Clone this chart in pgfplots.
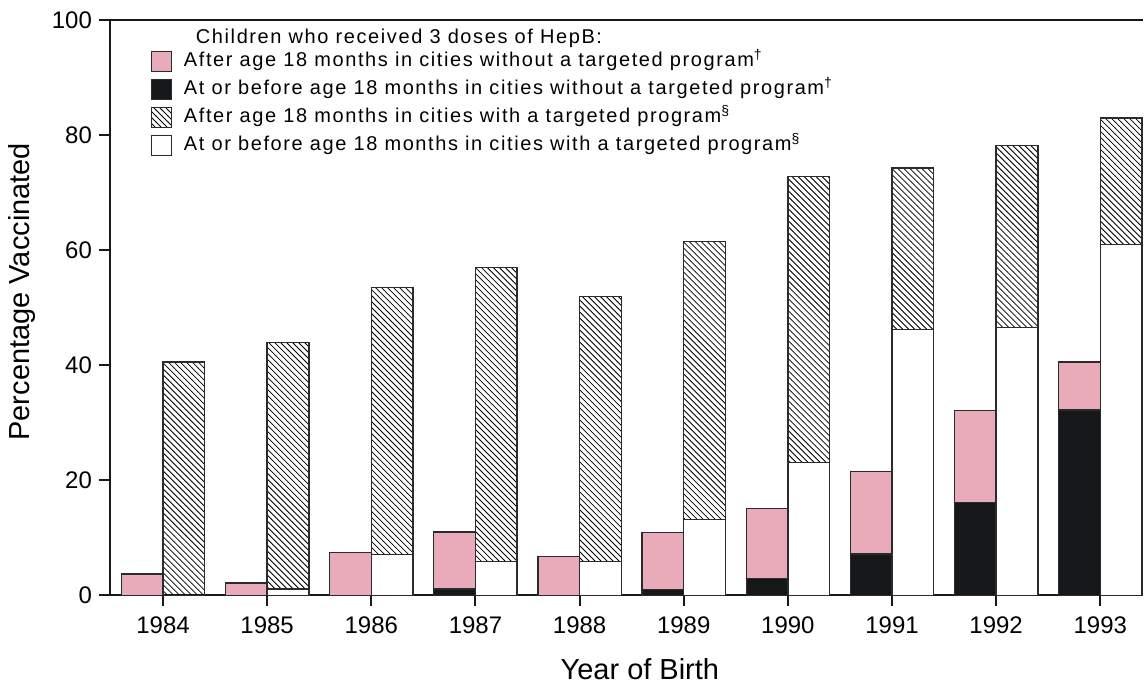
\documentclass[border=0pt]{standalone}
\usepackage{fontspec}
\setmainfont{Liberation Sans}
\newfontfamily\legfont[LetterSpace=8]{Liberation Sans}
\usepackage{pgfplots}
\usepackage{pgfplotstable}
\pgfplotsset{compat=1.18}
\usetikzlibrary{patterns}
\definecolor{hpink}{HTML}{E9AABA}
\definecolor{hblack}{HTML}{161718}
\definecolor{edge}{HTML}{2A2B2D}

\pgfplotstableread{
x black after white hatched
0 0.0 3.7 0.0 40.6
1 0.0 2.2 1.1 42.9
2 0.0 7.5 7.1 46.4
3 1.1 9.9 5.9 51.1
4 0.0 6.8 5.9 46.1
5 1.0 9.9 13.2 48.3
6 3.0 12.1 23.1 49.7
7 7.2 14.3 46.2 28.1
8 16.2 15.9 46.6 31.6
9 32.2 8.4 61.0 22.0
}\data

\pgfplotsset{common/.style={
  width=517pt, height=288pt, scale only axis,
  xmin=-0.51, xmax=9.41, ymin=0, ymax=100,
  ybar stacked, bar width=0.4,
}}

\begin{document}
\begin{tikzpicture}
\begin{axis}[common,
  axis x line=box, axis y line=left,
  axis line style={-, line width=1pt, black!90},
  xtick={0,1,2,3,4,5,6,7,8,9},
  xticklabels={1984,1985,1986,1987,1988,1989,1990,1991,1992,1993},
  xtick pos=bottom,
  ytick={0,20,40,60,80,100},
  tick align=outside, major tick length=5.5pt,
  tick style={line width=1pt, black!90},
  /pgf/number format/assume math mode=true,
  ticklabel style={font=\fontsize{12}{14}\selectfont},
  xticklabel style={yshift=-1.5pt},
  every axis x label/.style={at={(axis description cs:0.513,0)}, yshift=-42pt, anchor=base, inner sep=1pt, font=\fontsize{14.5}{16}\selectfont},
  every axis y label/.style={at={(axis description cs:0,0.5)}, xshift=-51pt, yshift=8pt, rotate=90, anchor=north, inner sep=0pt, font=\fontsize{14.5}{16}\selectfont},
  xlabel={Year of Birth},
  ylabel={Percentage Vaccinated},
  clip=false,
]
\addplot[fill=hblack, draw=edge, line width=0.7pt, bar shift=-0.2] table[x=x,y=black]{\data};
\addplot[fill=hpink, draw=edge, line width=0.7pt, bar shift=-0.2] table[x=x,y=after]{\data};
\path (axis description cs:0,1) ++(-55pt,10pt);
\path (axis description cs:0,0) ++(-55pt,-45pt);
\end{axis}
\begin{axis}[common, hide axis,
  legend style={at={(axis description cs:0.039,1)}, yshift=-0.5pt, anchor=north west, draw=none, fill=none,
    inner sep=0pt, font=\legfont\fontsize{10}{11}\selectfont, row sep=2pt,
    nodes={inner sep=1pt, text height=7.5pt, text depth=2.5pt},
    /tikz/every odd column/.append style={column sep=5pt}},
  legend cell align=left,
]
\addplot[fill=white, draw=edge, line width=0.7pt, bar shift=0.2, forget plot] table[x=x,y=white]{\data};
\addplot[pattern=north west lines, pattern color=black, draw=edge, line width=0.7pt, bar shift=0.2, forget plot] table[x=x,y=hatched]{\data};
\addlegendimage{empty legend}
\addlegendentry{\hspace{6pt}\raisebox{-2.5pt}{Children who received 3 doses of HepB:}}
\addlegendimage{legend image code/.code={\draw[fill=hpink, draw=edge, line width=0.7pt] (0pt,-5pt) rectangle (10pt,5pt);}}
\addlegendentry{After age 18 months in cities without a targeted program\textsuperscript{†}}
\addlegendimage{legend image code/.code={\draw[fill=hblack, draw=edge, line width=0.7pt] (0pt,-5pt) rectangle (10pt,5pt);}}
\addlegendentry{At or before age 18 months in cities without a targeted program\textsuperscript{†}}
\addlegendimage{legend image code/.code={\draw[pattern=north west lines, pattern color=black, draw=edge, line width=0.7pt] (0pt,-5pt) rectangle (10pt,5pt);}}
\addlegendentry{After age 18 months in cities with a targeted program\textsuperscript{\S}}
\addlegendimage{legend image code/.code={\draw[fill=white, draw=edge, line width=0.7pt] (0pt,-5pt) rectangle (10pt,5pt);}}
\addlegendentry{At or before age 18 months in cities with a targeted program\textsuperscript{\S}}
\end{axis}
\end{tikzpicture}
\end{document}
